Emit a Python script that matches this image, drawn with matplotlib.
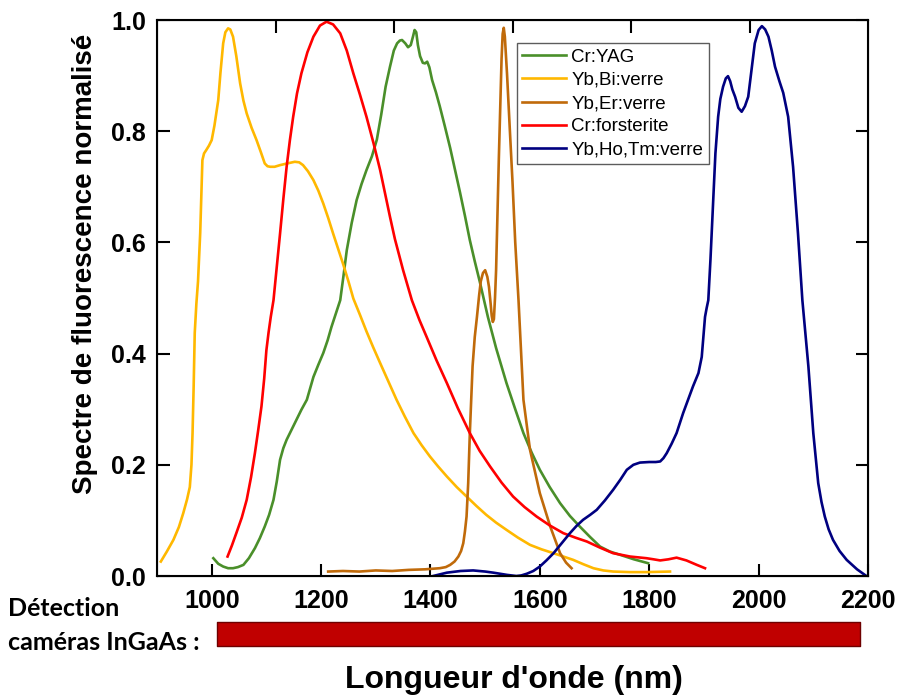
import matplotlib
matplotlib.use("Agg")
import matplotlib.pyplot as plt
from matplotlib.patches import FancyBboxPatch
import matplotlib.transforms as mtransforms

plt.rcParams['font.family'] = ['Liberation Sans', 'DejaVu Sans']

# Cr:YAG
yag_x = [1003, 1012, 1021, 1030, 1039, 1048, 1058, 1068, 1079, 1088, 1097, 1105, 1113, 1119,
         1125, 1131, 1137, 1146, 1155, 1164, 1174, 1186, 1195, 1204, 1212, 1219, 1227, 1235,
         1241, 1247, 1256, 1265, 1274, 1283, 1293, 1302, 1310, 1318, 1326, 1333, 1339, 1344,
         1348, 1354, 1359, 1364, 1368, 1371, 1374, 1377, 1381, 1386, 1390, 1394, 1398, 1403,
         1410, 1417, 1426, 1436, 1445, 1454, 1463, 1472, 1481, 1490, 1505, 1520, 1539, 1555,
         1570, 1585, 1600, 1618, 1637, 1655, 1673, 1692, 1710, 1728, 1747, 1772, 1798]
yag_y = [0.032, 0.022, 0.017, 0.014, 0.014, 0.016, 0.020, 0.032, 0.050, 0.068, 0.089, 0.110,
         0.137, 0.170, 0.209, 0.230, 0.245, 0.263, 0.281, 0.299, 0.317, 0.358, 0.380, 0.401,
         0.424, 0.448, 0.472, 0.496, 0.540, 0.586, 0.635, 0.676, 0.705, 0.730, 0.755, 0.785,
         0.830, 0.880, 0.916, 0.945, 0.958, 0.963, 0.964, 0.958, 0.951, 0.955, 0.970, 0.982,
         0.978, 0.955, 0.935, 0.923, 0.922, 0.925, 0.915, 0.892, 0.870, 0.845, 0.810, 0.770,
         0.730, 0.690, 0.648, 0.604, 0.566, 0.530, 0.466, 0.410, 0.347, 0.300, 0.257, 0.222,
         0.191, 0.160, 0.131, 0.108, 0.089, 0.070, 0.053, 0.044, 0.038, 0.030, 0.023]

# Yb,Bi:verre
ybbi_x = [907, 918, 930, 940, 948, 955, 960, 963, 965, 967, 969, 972, 975, 979, 983, 986, 990,
          995, 1000, 1005, 1012, 1016, 1021, 1025, 1030, 1034, 1039, 1045, 1052, 1058, 1064,
          1073, 1082, 1090, 1097, 1102, 1107, 1115, 1125, 1138, 1152, 1160, 1167, 1176, 1186,
          1195, 1204, 1213, 1222, 1231, 1240, 1250, 1259, 1271, 1283, 1295, 1308, 1323, 1338,
          1353, 1369, 1384, 1399, 1414, 1430, 1448, 1466, 1484, 1502, 1520, 1539, 1560, 1582,
          1603, 1625, 1643, 1661, 1680, 1698, 1716, 1734, 1765, 1795, 1838]
ybbi_y = [0.026, 0.044, 0.065, 0.088, 0.113, 0.138, 0.160, 0.200, 0.257, 0.340, 0.437, 0.490,
          0.530, 0.617, 0.748, 0.760, 0.766, 0.774, 0.784, 0.810, 0.856, 0.905, 0.958, 0.978,
          0.985, 0.983, 0.970, 0.935, 0.886, 0.855, 0.832, 0.806, 0.784, 0.762, 0.742, 0.737,
          0.736, 0.736, 0.739, 0.742, 0.745, 0.744, 0.739, 0.728, 0.712, 0.693, 0.670, 0.644,
          0.616, 0.589, 0.562, 0.530, 0.499, 0.470, 0.440, 0.412, 0.383, 0.350, 0.317, 0.287,
          0.257, 0.235, 0.215, 0.197, 0.179, 0.160, 0.143, 0.126, 0.110, 0.096, 0.083, 0.069,
          0.056, 0.048, 0.041, 0.035, 0.029, 0.021, 0.014, 0.010, 0.008, 0.007, 0.007, 0.008]

# Yb,Er:verre
yber_x = [1213, 1240, 1270, 1300, 1330, 1360, 1390, 1417, 1428, 1436, 1444, 1451, 1456, 1460,
          1463, 1466, 1469, 1472, 1477, 1481, 1485, 1489, 1492, 1496, 1500, 1504, 1507, 1510,
          1512, 1514, 1516, 1518, 1520, 1525, 1530, 1532, 1534, 1536, 1540, 1545, 1550, 1555,
          1561, 1570, 1582, 1600, 1619, 1637, 1648, 1658]
yber_y = [0.008, 0.009, 0.008, 0.010, 0.009, 0.011, 0.012, 0.014, 0.016, 0.020, 0.026, 0.035,
          0.045, 0.059, 0.080, 0.107, 0.167, 0.257, 0.377, 0.430, 0.466, 0.505, 0.530, 0.545,
          0.550, 0.538, 0.520, 0.490, 0.468, 0.457, 0.462, 0.500, 0.550, 0.750, 0.930, 0.975,
          0.986, 0.970, 0.903, 0.805, 0.709, 0.600, 0.496, 0.317, 0.227, 0.149, 0.089, 0.041,
          0.024, 0.014]

# Cr:forsterite
forst_x = [1029, 1037, 1045, 1055, 1064, 1072, 1079, 1085, 1091, 1096, 1100, 1104, 1108, 1113,
           1119, 1125, 1131, 1137, 1143, 1149, 1156, 1164, 1175, 1186, 1198, 1210, 1222, 1235,
           1247, 1259, 1271, 1283, 1296, 1308, 1317, 1326, 1335, 1350, 1366, 1380, 1393, 1411,
           1430, 1450, 1472, 1490, 1509, 1530, 1551, 1572, 1594, 1618, 1643, 1665, 1686, 1710,
           1734, 1765, 1795, 1808, 1820, 1835, 1850, 1868, 1887, 1902]
forst_y = [0.035, 0.055, 0.077, 0.105, 0.137, 0.178, 0.221, 0.262, 0.305, 0.355, 0.406, 0.438,
           0.466, 0.496, 0.556, 0.616, 0.678, 0.736, 0.784, 0.826, 0.868, 0.904, 0.942, 0.970,
           0.990, 0.997, 0.992, 0.976, 0.945, 0.904, 0.866, 0.826, 0.778, 0.730, 0.688, 0.646,
           0.606, 0.550, 0.496, 0.460, 0.430, 0.388, 0.347, 0.302, 0.257, 0.225, 0.197, 0.168,
           0.143, 0.124, 0.107, 0.091, 0.077, 0.069, 0.062, 0.051, 0.041, 0.035, 0.032, 0.030,
           0.028, 0.030, 0.033, 0.028, 0.020, 0.014]

# Yb,Ho,Tm:verre
ybho_x = [1405, 1430, 1455, 1478, 1500, 1515, 1540, 1557, 1566, 1576, 1588, 1600, 1612, 1625,
          1640, 1655, 1667, 1679, 1692, 1704, 1719, 1734, 1747, 1759, 1771, 1783, 1800, 1812,
          1820, 1826, 1832, 1841, 1850, 1856, 1862, 1871, 1880, 1890, 1896, 1899, 1902, 1905,
          1908, 1912, 1917, 1921, 1926, 1930, 1935, 1940, 1944, 1948, 1952, 1957, 1963, 1969,
          1975, 1981, 1987, 1993, 2000, 2006, 2012, 2018, 2024, 2030, 2038, 2045, 2054, 2063,
          2072, 2080, 2091, 2100, 2109, 2115, 2121, 2128, 2136, 2148, 2161, 2180, 2197]
ybho_y = [0.000, 0.006, 0.009, 0.010, 0.008, 0.006, 0.002, 0.000, 0.001, 0.004, 0.009, 0.017,
          0.028, 0.041, 0.059, 0.077, 0.090, 0.101, 0.110, 0.119, 0.136, 0.155, 0.173, 0.191,
          0.200, 0.204, 0.205, 0.205, 0.206, 0.212, 0.221, 0.238, 0.257, 0.275, 0.293, 0.317,
          0.341, 0.365, 0.394, 0.430, 0.466, 0.482, 0.496, 0.570, 0.676, 0.760, 0.826, 0.858,
          0.880, 0.895, 0.899, 0.890, 0.875, 0.862, 0.842, 0.835, 0.845, 0.862, 0.910, 0.958,
          0.982, 0.989, 0.983, 0.970, 0.945, 0.916, 0.890, 0.869, 0.826, 0.736, 0.616, 0.496,
          0.377, 0.257, 0.167, 0.133, 0.107, 0.084, 0.065, 0.045, 0.029, 0.012, 0.000]

labels = ["Cr:YAG", "Yb,Bi:verre", "Yb,Er:verre", "Cr:forsterite", "Yb,Ho,Tm:verre"]
colors = ["#4a8f2a", "#ffb800", "#c06a0a", "#ff0000", "#000080"]

x_ticks = [1000, 1200, 1400, 1600, 1800, 2000, 2200]
y_ticks = [0.0, 0.2, 0.4, 0.6, 0.8, 1.0]
ingaas_range = [1010, 2185]  # bande de detection des cameras InGaAs

fig = plt.figure(figsize=(9, 6.98), dpi=100)
ax = fig.add_axes([157 / 900, 1 - 576 / 698, 711 / 900, 556 / 698])

series = [(yag_x, yag_y), (ybbi_x, ybbi_y), (yber_x, yber_y), (forst_x, forst_y), (ybho_x, ybho_y)]
for (xs, ys), lab, c in zip(series, labels, colors):
    ax.plot(xs, ys, color=c, lw=1.9, label=lab, solid_joinstyle='round')

ax.set_xlim(900, 2200)
ax.set_ylim(0, 1.0)
ax.set_xticks(x_ticks)
ax.set_xticklabels([str(t) for t in x_ticks])
ax.set_yticks(y_ticks)
ax.set_yticklabels(["%.1f" % t for t in y_ticks])
ax.tick_params(direction='in', length=9, width=1.5, right=True, labelsize=18, colors='black')
ax.tick_params(axis='x', pad=9)
ax.tick_params(axis='y', pad=8)
for lab in ax.get_xticklabels() + ax.get_yticklabels():
    lab.set_fontweight('bold')
for sp in ax.spines.values():
    sp.set_linewidth(1.5)

# ticks du haut (echelle separee, sans etiquettes)
ax2 = ax.twiny()
ax2.set_xlim(0, 6)
ax2.set_xticks([1, 2, 3, 4, 5])
ax2.tick_params(axis='x', direction='in', length=9, width=1.5, labeltop=False)

leg = ax.legend(loc='upper left', bbox_to_anchor=(0.506, 0.959), borderaxespad=0,
                fontsize=13.5, handlelength=2.3, handletextpad=0.3, labelspacing=0.33,
                borderpad=0.3, fancybox=False, frameon=True)
leg.get_frame().set_edgecolor('#333333')
leg.get_frame().set_linewidth(1.0)

# barre de detection InGaAs
trans = mtransforms.blended_transform_factory(ax.transData, ax.transAxes)
bar = FancyBboxPatch((ingaas_range[0], -0.126), ingaas_range[1] - ingaas_range[0], 0.043,
                     boxstyle="square,pad=0", transform=trans, clip_on=False,
                     facecolor='#c00000', edgecolor='#6e0000', linewidth=1.0, joinstyle='round')
ax.add_patch(bar)

fig.text(8 / 900, 1 - 609 / 698, "Détection", fontsize=18, fontweight='bold',
         family=['Lato', 'DejaVu Sans'], va='center', ha='left')
fig.text(8 / 900, 1 - 642 / 698, "caméras InGaAs :", fontsize=18, fontweight='bold',
         family=['Lato', 'DejaVu Sans'], va='center', ha='left')

fig.text(85 / 900, 1 - 264 / 698, "Spectre de fluorescence normalisé", rotation=90,
         fontsize=20, fontweight='bold', va='center', ha='center')
fig.text(514 / 900, 1 - 680 / 698, "Longueur d'onde (nm)", fontsize=23, fontweight='bold',
         va='center', ha='center')

fig.savefig("out.png", dpi=100)
